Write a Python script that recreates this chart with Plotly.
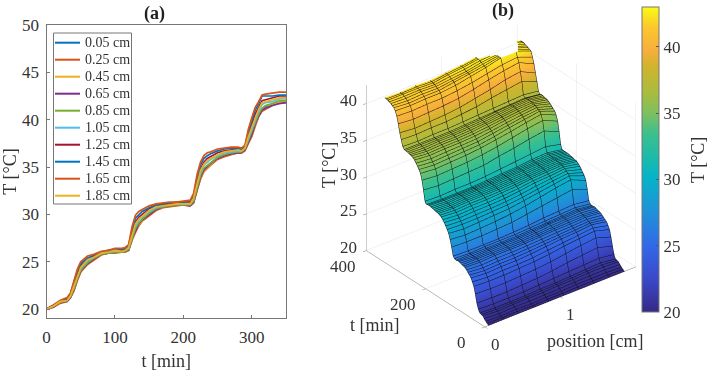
import plotly.graph_objects as go

t = [0,10,20,30,35,40,45,50,55,60,70,80,90,100,110,115,120,125,130,135,140,150,160,170,180,190,200,210,215,220,225,230,235,240,250,260,270,280,285,290,295,300,305,310,315,320,330,340,350]
positions = [0.05,0.25,0.45,0.65,0.85,1.05,1.25,1.45,1.65,1.85]
s005 = [20.0,20.3,20.8,20.9,21.3,22.0,23.1,24.0,24.5,24.9,25.4,25.8,25.9,26.1,26.0,26.1,26.3,27.4,28.3,29.0,29.4,30.1,30.6,30.8,30.9,31.0,31.1,31.0,31.3,32.7,33.9,34.7,35.1,35.4,36.0,36.3,36.4,36.5,36.5,36.8,37.6,38.4,39.5,40.4,41.0,41.3,41.6,41.8,41.9]
s025 = [20.0,20.2,20.6,20.8,21.2,21.9,23.0,23.9,24.3,24.7,25.2,25.7,25.9,25.9,26.0,26.0,26.2,27.3,28.1,28.8,29.3,29.9,30.4,30.7,30.8,30.9,31.0,30.9,31.2,32.5,33.7,34.5,34.9,35.2,35.8,36.1,36.3,36.5,36.5,36.7,37.5,38.2,39.3,40.3,40.9,41.1,41.5,41.8,41.8]
s045 = [20.0,20.3,20.7,20.8,21.2,21.9,23.0,23.9,24.4,24.8,25.3,25.8,25.9,26.0,26.0,26.1,26.2,27.3,28.2,28.9,29.3,30.0,30.5,30.8,30.9,31.0,31.0,30.9,31.3,32.6,33.8,34.6,35.0,35.3,35.9,36.2,36.4,36.5,36.5,36.8,37.6,38.3,39.4,40.4,41.0,41.2,41.6,41.8,41.9]
s065 = [20.0,20.2,20.7,20.8,21.2,22.0,23.1,24.0,24.4,24.8,25.3,25.8,25.9,26.0,26.0,26.1,26.2,27.4,28.3,29.0,29.4,30.0,30.5,30.8,30.9,31.0,31.0,30.9,31.3,32.7,33.9,34.7,35.1,35.4,35.9,36.2,36.4,36.5,36.5,36.8,37.6,38.4,39.5,40.4,41.0,41.2,41.5,41.7,41.8]
s085 = [20.0,20.3,20.7,20.9,21.3,22.1,23.2,24.1,24.5,24.9,25.4,25.8,25.9,26.0,26.0,26.1,26.3,27.5,28.5,29.1,29.5,30.1,30.6,30.8,30.9,31.0,31.0,31.0,31.4,32.8,34.1,34.9,35.2,35.5,36.0,36.3,36.5,36.6,36.6,36.9,37.8,38.6,39.7,40.6,41.2,41.5,41.7,42.0,42.0]
s105 = [20.0,20.3,20.8,20.9,21.4,22.3,23.4,24.3,24.7,25.1,25.5,25.9,26.0,26.1,26.1,26.2,26.4,27.8,28.8,29.4,29.7,30.3,30.7,30.9,31.0,31.1,31.1,31.1,31.6,33.2,34.4,35.2,35.5,35.8,36.2,36.5,36.6,36.7,36.7,37.0,38.0,39.0,40.1,40.9,41.6,41.8,41.9,42.2,42.2]
s125 = [20.0,20.4,20.8,21.0,21.5,22.6,23.7,24.6,24.9,25.3,25.6,26.0,26.1,26.3,26.2,26.3,26.6,28.1,29.2,29.7,30.0,30.6,30.9,31.0,31.1,31.2,31.2,31.2,31.8,33.5,34.8,35.5,35.9,36.1,36.5,36.7,36.8,36.9,36.8,37.1,38.4,39.4,40.6,41.3,42.0,42.1,42.3,42.5,42.5]
s145 = [20.0,20.4,20.9,21.1,21.6,22.8,24.0,24.8,25.1,25.4,25.7,26.0,26.2,26.3,26.3,26.4,26.7,28.4,29.6,30.0,30.3,30.7,31.0,31.1,31.2,31.3,31.3,31.4,32.0,33.9,35.2,35.9,36.2,36.4,36.7,36.9,37.0,37.0,36.9,37.2,38.7,39.9,41.0,41.7,42.5,42.5,42.5,42.6,42.6]
s165 = [20.0,20.4,20.9,21.2,21.7,23.0,24.2,25.0,25.3,25.6,25.8,26.1,26.2,26.4,26.4,26.5,26.8,28.7,29.9,30.3,30.5,30.9,31.1,31.2,31.3,31.3,31.4,31.5,32.2,34.2,35.5,36.2,36.5,36.6,36.9,37.0,37.1,37.1,37.0,37.3,39.0,40.2,41.3,41.9,42.6,42.7,42.8,42.9,42.9]
s185 = [20.0,20.3,20.8,20.9,21.4,22.4,23.5,24.4,24.8,25.2,25.5,25.9,26.0,26.2,26.1,26.2,26.5,27.9,29.0,29.5,29.8,30.4,30.8,30.9,31.0,31.1,31.1,31.1,31.7,33.3,34.6,35.3,35.7,35.9,36.3,36.6,36.7,36.8,36.7,37.0,38.2,39.2,40.3,41.1,41.8,41.9,42.1,42.3,42.3]
series = [s005,s025,s045,s065,s085,s105,s125,s145,s165,s185]
labels = ["0.05 cm","0.25 cm","0.45 cm","0.65 cm","0.85 cm","1.05 cm","1.25 cm","1.45 cm","1.65 cm","1.85 cm"]
colors = ["#0072BD","#D95319","#EDB120","#7E2F8E","#77AC30","#4DBEEE","#A2142F","#0072BD","#D95319","#EDB120"]
parula = [[0,"#352a87"],[0.106,"#3a48c8"],[0.215,"#3268e8"],[0.324,"#2090d8"],[0.444,"#05b4c8"],[0.476,"#10b8b8"],[0.585,"#3cc08c"],[0.65,"#7cc060"],[0.716,"#a8bc40"],[0.804,"#d0b42c"],[0.858,"#f8ae3c"],[0.934,"#fcc82c"],[1,"#f9fb15"]]
z_ticks = [20,25,30,35,40]
t_ticks = [0,200,400]
pos_ticks = [0,1]

FONT = "Liberation Serif"
TC = "#333333"
W, H = 710, 371
fig = go.Figure()
for name, ys, c in zip(labels, series, colors):
    fig.add_trace(go.Scatter(x=t, y=ys, mode="lines", name=name, line=dict(color=c, width=1.7), hoverinfo="skip", showlegend=False))
zgrid = [[s[i] for s in series] for i in range(len(t))]
fig.add_trace(go.Surface(
    x=positions, y=t, z=zgrid, cmin=20, cmax=43, colorscale=parula, showlegend=False,
    lighting=dict(ambient=1, diffuse=0, specular=0, roughness=1, fresnel=0),
    contours=dict(
        x=dict(show=True, start=0.05, end=1.85, size=0.2, color="#111111", width=1),
        y=dict(show=True, start=0, end=350, size=5, color="#111111", width=1),
    ),
    hoverinfo="skip",
    colorbar=dict(x=642/W, xanchor="left", y=1-7/H, yanchor="top", len=305/H, lenmode="fraction",
                  thickness=17, thicknessmode="pixels", xpad=0, ypad=0, outlinecolor="#777777", outlinewidth=1,
                  tickvals=z_ticks, ticks="inside", ticklen=3, tickcolor="#555555",
                  tickfont=dict(family=FONT, size=17, color=TC)),
))
ax3 = dict(showbackground=False, showgrid=True, gridcolor="#e4e4e4", gridwidth=1, showline=True, linecolor="#777777",
           linewidth=1, zeroline=False, showspikes=False, ticks="outside", ticklen=4, tickcolor="#777777",
           title=dict(text=""), showticklabels=False)

def note(text, x, y, size=17, angle=0, color=TC, xanchor="center"):
    return dict(text=text, x=x/W, y=1-y/H, xref="paper", yref="paper", showarrow=False, textangle=angle,
                xanchor=xanchor, yanchor="middle", font=dict(family=FONT, size=size, color=color))

def tick3d(text, x, y, z, dx, dy):
    return dict(text=str(text), x=x, y=y, z=z, showarrow=False, xshift=dx, yshift=-dy,
                xanchor="center", yanchor="middle", font=dict(family=FONT, size=17, color=TC))

scene_notes = [tick3d(v, 0, 400, v, -18, -3) for v in z_ticks]
scene_notes += [tick3d(v, 0, v, 20, -23, 16) for v in t_ticks]
scene_notes += [tick3d(v, v, 0, 20, 10.5, 17.5) for v in pos_ticks]

annotations = [
    note("<b>(a)</b>", 154, 13, 18, color="#222222"),
    note("<b>(b)</b>", 503, 10, 18, color="#222222"),
    note("T [°C]", 698, 160, 18, -90),
    note("T [°C]", 329, 165, 18, -90),
    note("t [min]", 375, 325, 18),
    note("position [cm]", 595, 341, 18),
]
shapes = [dict(type="rect", xref="paper", yref="paper", x0=53.5/W, x1=131.5/W, y0=1-33/H, y1=1-204/H,
               fillcolor="white", line=dict(color="#777777", width=1))]
for i, (name, c) in enumerate(zip(labels, colors)):
    ry = 42.7 + 17*i
    shapes.append(dict(type="line", xref="paper", yref="paper", x0=55/W, x1=80/W, y0=1-ry/H, y1=1-ry/H, line=dict(color=c, width=2)))
    annotations.append(note(name, 82.5, ry, 14, xanchor="left"))

fig.update_layout(
    width=W, height=H, margin=dict(l=0, r=0, t=0, b=0, autoexpand=False), paper_bgcolor="white", plot_bgcolor="white",
    font=dict(family=FONT, size=17, color=TC), showlegend=False,
    xaxis=dict(domain=[46.5/W, 286/W], range=[0,350], tickvals=[0,100,200,300], ticks="inside", ticklen=3, ticklabelstandoff=4,
               showline=True, mirror=True, linecolor="#777777", showgrid=False, zeroline=False,
               title=dict(text="t [min]", standoff=7, font=dict(size=18)), tickcolor="#777777"),
    yaxis=dict(domain=[1-318/H, 1-25/H], range=[19.05,50], tickvals=[20,25,30,35,40,45,50], ticks="inside", ticklen=3, ticklabelstandoff=3,
               showline=True, mirror=True, linecolor="#777777", showgrid=False, zeroline=False,
               title=dict(text="T [°C]", standoff=6, font=dict(size=18)), tickcolor="#777777"),
    scene=dict(
        domain=dict(x=[341/W, 661/W], y=[1-352/H, 1]),
        aspectmode="manual", aspectratio=dict(x=1.09, y=1.09, z=1.09),
        xaxis=dict(ax3, range=[0,2], tickvals=pos_ticks),
        yaxis=dict(ax3, range=[0,400], tickvals=t_ticks),
        zaxis=dict(ax3, range=[20,42.5], tickvals=z_ticks),
        camera=dict(projection=dict(type="orthographic"), eye=dict(x=-1.066, y=-1.356, z=1.012), up=dict(x=0,y=0,z=1), center=dict(x=0,y=0,z=0)),
        annotations=scene_notes,
    ),
    annotations=annotations, shapes=shapes,
)
fig.write_html("out.html", post_script="document.body.style.margin='0';", config=dict(displayModeBar=False))
